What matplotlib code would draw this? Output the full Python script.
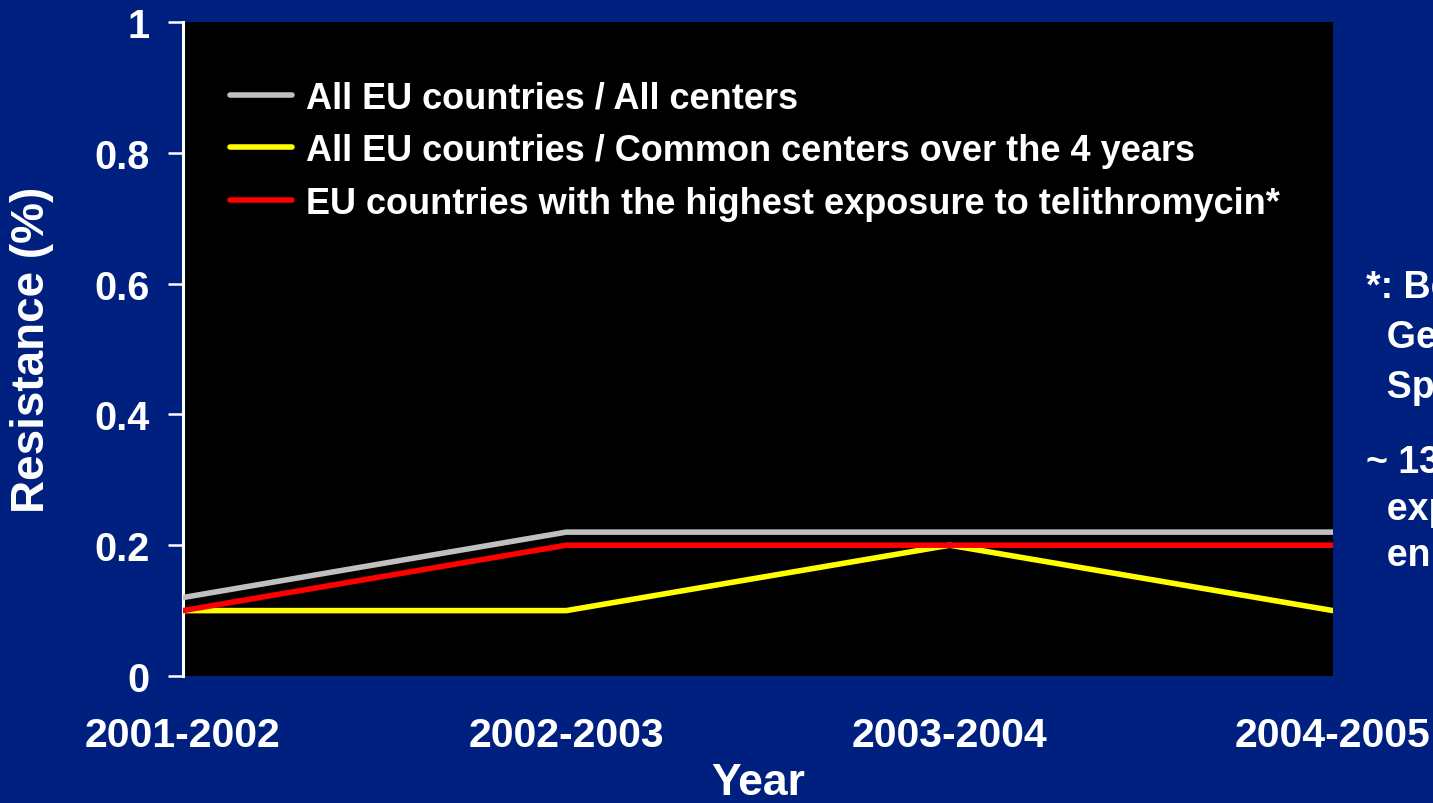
import matplotlib
matplotlib.use("Agg")
import matplotlib.pyplot as plt

years = ["2001-2002", "2002-2003", "2003-2004", "2004-2005"]
all_centers = [0.12, 0.22, 0.22, 0.22]
common_centers = [0.10, 0.10, 0.20, 0.10]
high_exposure = [0.10, 0.20, 0.20, 0.20]
labels = ["All EU countries / All centers",
          "All EU countries / Common centers over the 4 years",
          "EU countries with the highest exposure to telithromycin*"]
yticks = [0, 0.2, 0.4, 0.6, 0.8, 1.0]
ytick_labels = ["0", "0.2", "0.4", "0.6", "0.8", "1"]

BG = "#002080"
plt.rcParams['font.family'] = ['Liberation Sans', 'DejaVu Sans']
plt.rcParams['font.weight'] = 'bold'

fig = plt.figure(figsize=(14.33, 8.04), dpi=100, facecolor=BG)
ax = fig.add_axes([183/1433, 127/804, 1150/1433, 654/804])
ax.set_facecolor("black")

x = list(range(len(years)))
ax.plot(x, all_centers, color="#c0c0c0", lw=4.0, solid_capstyle="round", label=labels[0], zorder=3)
ax.plot(x, common_centers, color="#ffff00", lw=4.0, solid_capstyle="round", label=labels[1], zorder=3)
ax.plot(x, high_exposure, color="#ff0000", lw=4.0, solid_capstyle="round", label=labels[2], zorder=4)

ax.set_xlim(0, 3)
ax.set_ylim(0, 1)
for s in ["top", "right", "bottom"]:
    ax.spines[s].set_visible(False)
ax.spines["left"].set_color("white")
ax.spines["left"].set_linewidth(2.2)

ax.set_yticks(yticks)
ax.set_yticklabels(ytick_labels, fontsize=28.5, fontweight="bold", color="white")
ax.tick_params(axis="y", colors="white", length=11, width=1.8, pad=13)
ax.set_xticks(x)
ax.set_xticklabels(years, fontsize=29.5, fontweight="bold", color="white")
ax.tick_params(axis="x", length=0, pad=29)
for lbl in ax.get_xticklabels():
    lbl.set_clip_on(False)

ax.set_xlabel("Year", fontsize=32, fontweight="bold", color="white")
ax.xaxis.set_label_coords(0.5, -0.131)
ax.set_ylabel("Resistance (%)", fontsize=33, fontweight="bold", color="white")
ax.yaxis.set_label_coords(-0.112, 0.5)

leg = ax.legend(loc="upper left", bbox_to_anchor=(0.041, 0.911), frameon=False,
                fontsize=26, handlelength=1.72, handletextpad=0.38,
                labelspacing=0.49, borderpad=0, borderaxespad=0)
for t in leg.get_texts():
    t.set_color("white")
    t.set_fontweight("bold")

fig.text(1366/1433, 1 - 270/804,
         "*: Belgium, France,\n  Germany, Italy,\n  Spain",
         fontsize=27, fontweight="bold", color="white", va="top", ha="left",
         linespacing=1.5)
fig.text(1366/1433, 1 - 445/804,
         "~ 13 million patients\n  exposed to telithromycin\n  enrolled",
         fontsize=27, fontweight="bold", color="white", va="top", ha="left",
         linespacing=1.38)

fig.savefig("out.png", dpi=100, facecolor=BG)
